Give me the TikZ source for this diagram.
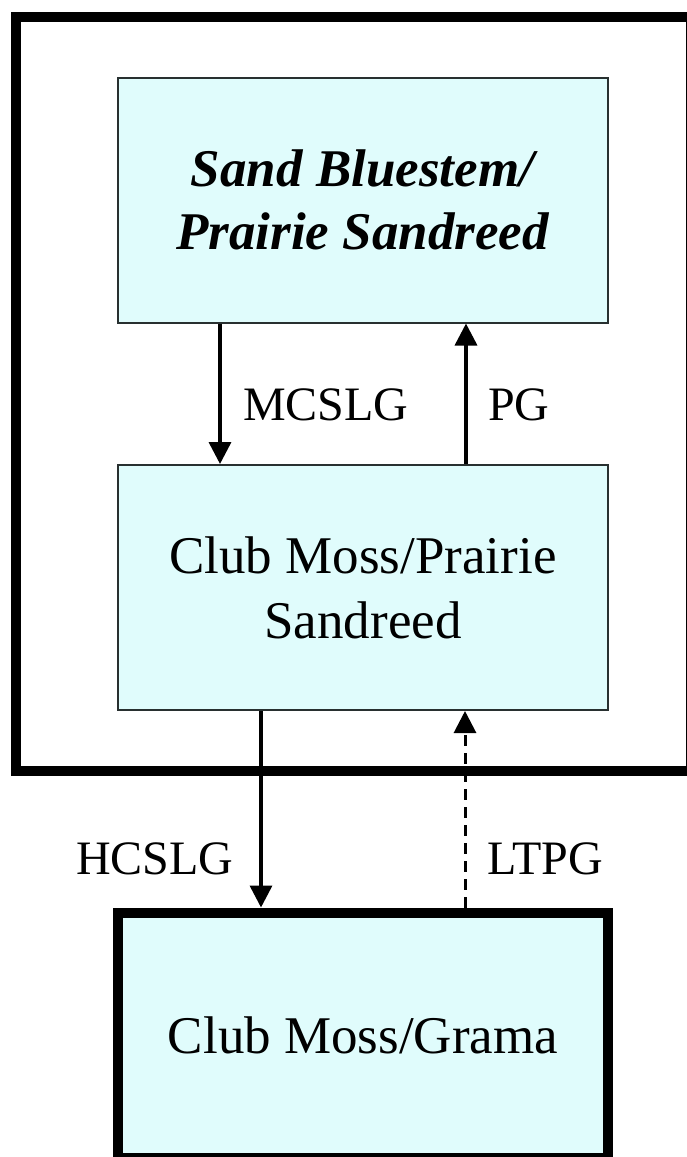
\documentclass[tikz,border=0pt]{standalone}
\usepackage{fontspec}
\setmainfont{Liberation Serif}
\usetikzlibrary{arrows.meta}
\definecolor{boxfill}{RGB}{224,252,252}
\definecolor{boxline}{RGB}{40,48,48}
\begin{document}
\begin{tikzpicture}[x=1pt,y=-1pt,
  state/.style={draw=boxline, line width=2pt, fill=boxfill,
    minimum width=490pt, minimum height=245pt, align=center, inner sep=0pt},
  flow/.style={line width=3.5pt, -{Triangle[length=22pt,width=22pt]}},
  rate/.style={anchor=base west, inner sep=0pt, font=\fontsize{48}{56}\selectfont}]
\useasboundingbox (0,0) rectangle (687,1157);
\clip (0,0) rectangle (687,1157);

% heavy frame around the two upper states
\draw[line width=10pt] (16,17) rectangle (691,771);

% states
\node[state, font=\fontsize{53}{63}\selectfont\bfseries\itshape] (sb) at (362.5,200)
  {Sand Bluestem/\\Prairie Sandreed};
\node[state, font=\fontsize{53}{65}\selectfont] (cmp) at (363,587.5)
  {Club Moss/Prairie\\Sandreed};
\node[state, draw=black, line width=10pt, font=\fontsize{53}{63}\selectfont] (cmg) at (363,1035)
  {Club Moss/Grama};

% columns of the transitions
\coordinate (xmc) at (220,0);
\coordinate (xpg) at (466,0);
\coordinate (xhc) at (261,0);
\coordinate (xlt) at (465,0);

% transitions
\draw[flow] (sb.south -| xmc) -- (cmp.north -| xmc);
\draw[flow] (cmp.north -| xpg) -- (sb.south -| xpg);
\draw[flow] (cmp.south -| xhc) -- (cmg.north -| xhc);
\draw[flow, line width=3pt, dash pattern=on 11pt off 7pt] (cmg.north -| xlt) -- (cmp.south -| xlt);

% transition labels
\node[rate] (lmc) at (243,420) {MCSLG};
\node[rate] (lpg) at (488,420) {PG};
\node[rate] (lhc) at (76,874) {HCSLG};
\node[rate] (llt) at (487,874) {LTPG};
\end{tikzpicture}
\end{document}
